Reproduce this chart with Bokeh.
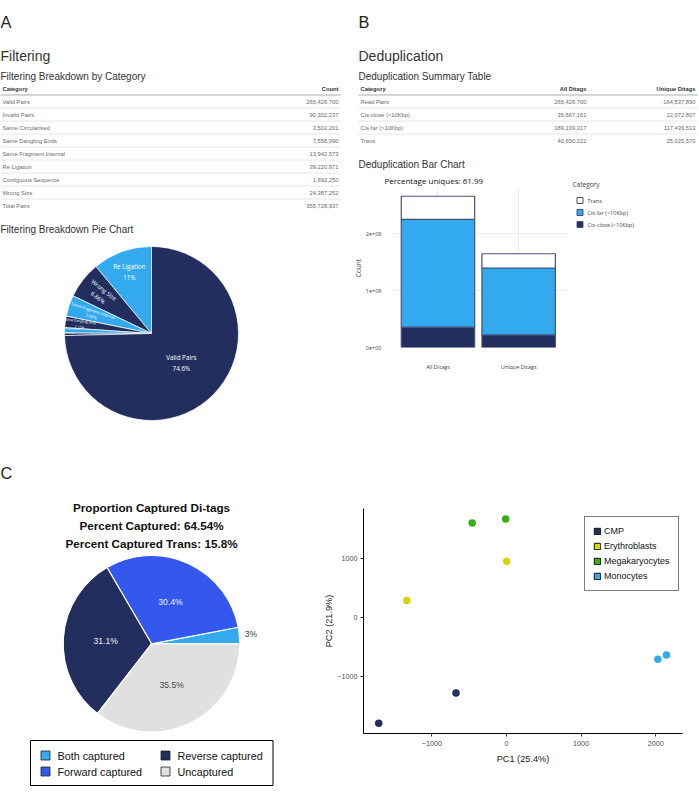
import numpy as np
from bokeh.plotting import figure
from bokeh.models import Range1d, Label, Legend, LegendItem, FixedTicker
from bokeh.layouts import row, column
from bokeh.core.properties import value
from bokeh.embed import file_html
from bokeh.resources import INLINE

# ---------------- data ----------------
filter_categories = ["Valid Pairs", "Invalid Pairs", "Same Circularised", "Same Dangling Ends",
                     "Same Fragment Internal", "Re Ligation", "Contiguous Sequence", "Wrong Size",
                     "Total Pairs"]
filter_counts = [265426700, 90302237, 3502201, 7556990, 13942573, 39220971, 1692250, 24387252,
                 355728937]

# pie slices in drawing order (counter-clockwise from 12 o'clock)
pie_a_labels = ["Re Ligation", "Wrong Size", "Same Fragment Internal", "Same Dangling Ends",
                "Same Circularised", "Contiguous Sequence", "Valid Pairs"]
pie_a_values = [39220971, 24387252, 13942573, 7556990, 3502201, 1692250, 265426700]

dedup_categories = ["Read Pairs", "Cis-close (<10Kbp)", "Cis-far (>10Kbp)", "Trans"]
dedup_all = [265426700, 35667161, 189109317, 40650222]
dedup_unique = [164537890, 22072807, 117439513, 25025570]

bar_groups = ["All Ditags", "Unique Ditags"]
bar_series = ["Cis-close (<10Kbp)", "Cis-far (>10Kbp)", "Trans"]   # stack order
bar_close = [35667161, 22072807]
bar_far = [189109317, 117439513]
bar_trans = [40650222, 25025570]
bar_yticks = [0, 100000000, 200000000]
bar_ytick_labels = ["0e+00", "1e+08", "2e+08"]

cap_labels = ["Both captured", "Forward captured", "Reverse captured", "Uncaptured"]
cap_pct = [3.0, 30.4, 31.1, 35.5]
cap_title = ["Proportion Captured Di-tags", "Percent Captured: 64.54%",
             "Percent Captured Trans: 15.8%"]

pca_classes = ["CMP", "Erythroblasts", "Megakaryocytes", "Monocytes"]
pca_group = ["CMP", "CMP", "Erythroblasts", "Erythroblasts", "Megakaryocytes",
             "Megakaryocytes", "Monocytes", "Monocytes"]
pca_pc1 = [-1713, -677, -1336, 3, -460, -11, 2029, 2144]
pca_pc2 = [-1797, -1283, 283, 949, 1598, 1666, -712, -639]
pca_xticks = [-1000, 0, 1000, 2000]
pca_yticks = [-1000, 0, 1000]

# ---------------- style ----------------
NAVY = "#212e5e"
LIGHT = "#33aaee"
FWD = "#3458ee"
GRAY = "#e0e0e0"
SANS = "Liberation Sans"
PLOTLY = "Open Sans"
ROW_H = 13

pie_a_colors = [LIGHT, NAVY, LIGHT, NAVY, LIGHT, NAVY, NAVY]
pie_a_lab_r = [0.75, 0.74, 0.72, 0.83, 0.94, 0.0, 0.48]
pie_a_lab_size = [6.3, 5.8, 4.1, 3.4, 2.5, 0.0, 6.3]
bar_colors = [NAVY, LIGHT, "white"]
BAR_LINE = "#47507c"
cap_colors = [LIGHT, FWD, NAVY, GRAY]
cap_text_colors = ["#444444", "#eeeeee", "#eeeeee", "#444444"]
pca_colors = ["#222e5e", "#d6d40c", "#33b10f", "#36a9ef"]


def canvas(w, h):
    p = figure(width=w, height=h, x_range=Range1d(0, w), y_range=Range1d(h, 0),
               x_axis_type=None, y_axis_type=None, toolbar_location=None,
               output_backend="svg", min_border=0)
    p.outline_line_color = None
    p.frame_align = False
    return p


def put(p, x, y, text, size, color="#333333", font=SANS, style="normal", align="left",
        baseline="alphabetic", angle=0):
    if not isinstance(text, (list, tuple)):
        x, y, text = [x], [y], [text]
    p.text(x=list(x), y=list(y), text=list(text), text_font=value(font),
           text_font_size=f"{size}px", text_color=color, text_font_style=style,
           text_align=align, text_baseline=baseline, angle=angle, angle_units="deg")


def table(p, left, right, hdr_y, xs, aligns, headers, columns):
    n = len(columns[0])
    for hx, h, al in zip(xs, headers, aligns):
        put(p, hx, hdr_y, h, 5.8, "#333333", style="bold", align=al, baseline="middle")
    ys = [hdr_y + ROW_H * (i + 1) for i in range(n)]
    for hx, col, al in zip(xs, columns, aligns):
        put(p, [hx] * n, ys, col, 5.8, "#6a6a6a", align=al, baseline="middle")
    ly = [hdr_y + 6.5 + ROW_H * i for i in range(n)]
    p.segment(x0=left, x1=right, y0=ly, y1=ly,
              line_color=["#d6d6d6"] + ["#e6e6e6"] * (n - 1),
              line_width=[2] + [1] * (n - 1))


# ---------------- panel A ----------------
pA = canvas(350, 445)
put(pA, 0, 21.7, "A", 16.3, "#222222")
put(pA, 0, 55, "Filtering", 14)
put(pA, 0, 75.5, "Filtering Breakdown by Category", 10)
table(pA, 0, 340, 88, [2, 338], ["left", "right"], ["Category", "Count"],
      [filter_categories, [f"{c:,}" for c in filter_counts]])
put(pA, 0, 228.5, "Filtering Breakdown Pie Chart", 10)

acx, acy, ar = 151, 333, 87
vals = np.array(pie_a_values, float)
frac = vals / vals.sum()
edges = 90 + 360 * np.concatenate([[0], np.cumsum(frac)])
pA.wedge(x=acx, y=acy, radius=ar, radius_units="screen",
         start_angle=np.deg2rad(edges[:-1]), end_angle=np.deg2rad(edges[1:]),
         direction="anticlock", fill_color=pie_a_colors, line_color="white", line_width=0.7)
mids = (edges[:-1] + edges[1:]) / 2
for lab, f, m, rf, fs in zip(pie_a_labels, frac, mids, pie_a_lab_r, pie_a_lab_size):
    if fs <= 0:
        continue
    rad = np.deg2rad(m)
    lx = acx + ar * rf * np.cos(rad)
    ly = acy - ar * rf * np.sin(rad)
    ang = 0 if f >= 0.1 else (m - 180 if np.cos(rad) < 0 else m)
    put(pA, lx, ly, f"{lab}\n{100 * f:.3g}%", fs, "white", font=PLOTLY, align="center",
        baseline="middle", angle=ang)

# ---------------- panel B ----------------
pB1 = canvas(349, 170)
put(pB1, 8, 21.7, "B", 16.3, "#222222")
put(pB1, 8, 55, "Deduplication", 14)
put(pB1, 8, 75.5, "Deduplication Summary Table", 10)
table(pB1, 8, 347, 88, [10, 236, 345], ["left", "right", "right"],
      ["Category", "All Ditags", "Unique Ditags"],
      [dedup_categories, [f"{v:,}" for v in dedup_all], [f"{v:,}" for v in dedup_unique]])
put(pB1, 8, 164, "Deduplication Bar Chart", 10)

pB2 = figure(width=218, height=275, x_range=Range1d(-0.576, 1.618),
             y_range=Range1d(0, 2.79e8), toolbar_location=None, output_backend="svg",
             min_border_left=37, min_border_right=0, min_border_top=18,
             min_border_bottom=98,
             title=f"Percentage uniques: {100 * dedup_unique[0] / dedup_all[0]:.2f}")
pB2.frame_align = False
pB2.outline_line_color = None
pB2.title.align = "left"
pB2.title.offset = -7
pB2.title.standoff = 5
pB2.title.text_font = PLOTLY
pB2.title.text_font_size = "8px"
pB2.title.text_font_style = "normal"
pB2.title.text_color = "#111111"
src = dict(x=list(range(len(bar_groups))), close=bar_close, far=bar_far, trans=bar_trans)
rs = pB2.vbar_stack(["close", "far", "trans"], x="x", width=0.91, source=src,
                    fill_color=bar_colors, line_color=BAR_LINE, line_width=1.2,
                    name=bar_series)
pB2.xaxis.ticker = FixedTicker(ticks=list(range(len(bar_groups))))
pB2.xaxis.major_label_overrides = {i: g for i, g in enumerate(bar_groups)}
pB2.yaxis.ticker = FixedTicker(ticks=bar_yticks)
pB2.yaxis.major_label_overrides = dict(zip(bar_yticks, bar_ytick_labels))
pB2.yaxis.axis_label = "Count"
for ax in (pB2.xaxis[0], pB2.yaxis[0]):
    ax.axis_line_color = None
    ax.major_tick_line_color = None
    ax.minor_tick_line_color = None
    ax.major_label_text_font = PLOTLY
    ax.major_label_text_font_size = "5.5px"
    ax.major_label_text_color = "#444444"
pB2.xaxis.major_label_standoff = 9
pB2.yaxis.major_label_standoff = 4
pB2.yaxis.axis_label_text_font = PLOTLY
pB2.yaxis.axis_label_text_font_size = "6.5px"
pB2.yaxis.axis_label_text_font_style = "normal"
pB2.yaxis.axis_label_text_color = "#444444"
pB2.yaxis.axis_label_standoff = 0
pB2.grid.grid_line_color = "#ececec"

# legend of the bar chart (drawn beside the plot area)
pB3 = canvas(131, 275)
put(pB3, 4, 14, "Category", 6.5, "#444444", font=PLOTLY, baseline="middle")
leg_names = bar_series[::-1]
leg_cols = bar_colors[::-1]
leg_y = [30 + 12 * i for i in range(len(leg_names))]
pB3.rect(x=[11.5] * len(leg_names), y=leg_y, width=6, height=6, fill_color=leg_cols,
         line_color=BAR_LINE, line_width=1)
put(pB3, [19] * len(leg_names), leg_y, leg_names, 5.5, "#444444", font=PLOTLY,
    baseline="middle")

# ---------------- panel C ----------------
pC = canvas(320, 351)
put(pC, 0, 27.7, "C", 16.3, "#222222")
for i, t in enumerate(cap_title):
    put(pC, 151, 62.3 + 17.7 * i, t, 11.7, "#111111", style="bold", align="center")
ccx, ccy, cr = 151, 198.3, 88.3
cp = np.array(cap_pct, float)
cedges = 360 * np.concatenate([[0], np.cumsum(cp) / cp.sum()])
pC.wedge(x=ccx, y=ccy, radius=cr, radius_units="screen",
         start_angle=np.deg2rad(cedges[:-1]), end_angle=np.deg2rad(cedges[1:]),
         direction="anticlock", fill_color=cap_colors, line_color="white", line_width=1.2)
cm = np.deg2rad((cedges[:-1] + cedges[1:]) / 2)
crf = np.where(cp / cp.sum() < 0.05, 1.13, 0.52)
put(pC, list(ccx + cr * crf * np.cos(cm)), list(ccy - cr * crf * np.sin(cm)),
    [f"{v:g}%" for v in cap_pct], 8.6, cap_text_colors, align="center",
    baseline="middle")
# legend box
pC.quad(left=30, right=272.5, top=295, bottom=340, fill_color="white",
        line_color="black", line_width=1)
lx = [45 + 120 * (i // 2) for i in range(len(cap_labels))]
ly = [310 + 16 * (i % 2) for i in range(len(cap_labels))]
pC.rect(x=lx, y=ly, width=9, height=9, fill_color=cap_colors, line_color="#222222",
        line_width=0.8)
put(pC, [x + 12 for x in lx], ly, cap_labels, 10.8, "#111111", baseline="middle")

# ---------------- panel D ----------------
pD = figure(width=379, height=351, x_range=Range1d(-1917, 2359),
            y_range=Range1d(-1971, 1842), toolbar_location=None, output_backend="svg",
            min_border_left=43, min_border_right=17, min_border_top=63,
            min_border_bottom=63)
pD.frame_align = False
pD.outline_line_color = None
pD.grid.visible = False
items = []
for cls, col in zip(pca_classes, pca_colors):
    xs = [x for x, g in zip(pca_pc1, pca_group) if g == cls]
    ys = [y for y, g in zip(pca_pc2, pca_group) if g == cls]
    pD.scatter(xs, ys, size=7.5, fill_color=col, line_color=None)
    key = pD.rect(x=[float("nan")], y=[float("nan")], width=1, height=1,
                  fill_color=col, line_color="#111111", line_width=1)
    items.append(LegendItem(label=cls, renderers=[key]))
pD.xaxis.ticker = FixedTicker(ticks=pca_xticks)
pD.yaxis.ticker = FixedTicker(ticks=pca_yticks)
pD.xaxis.axis_label = "PC1 (25.4%)"
pD.yaxis.axis_label = "PC2 (21.9%)"
for ax in (pD.xaxis[0], pD.yaxis[0]):
    ax.axis_line_color = "black"
    ax.axis_line_width = 1
    ax.major_tick_line_color = "#333333"
    ax.major_tick_in = 0
    ax.major_tick_out = 3
    ax.minor_tick_line_color = None
    ax.major_label_text_font = SANS
    ax.major_label_text_font_size = "7.2px"
    ax.major_label_text_color = "#4d4d4d"
    ax.axis_label_text_font = SANS
    ax.axis_label_text_font_size = "9.2px"
    ax.axis_label_text_font_style = "normal"
    ax.axis_label_text_color = "#222222"
pD.xaxis.major_label_standoff = 4
pD.yaxis.major_label_standoff = 3
pD.xaxis.axis_label_standoff = 5
pD.yaxis.axis_label_standoff = 0
legD = Legend(items=items, location=(221, 142))
legD.label_text_font = SANS
legD.label_text_font_size = "9px"
legD.label_text_color = "#111111"
legD.glyph_width = 8
legD.glyph_height = 8
legD.label_standoff = 3
legD.label_height = 12
legD.spacing = 3
legD.padding = 8
legD.border_line_color = "black"
legD.border_line_width = 1
legD.background_fill_color = "white"
legD.background_fill_alpha = 1
pD.add_layout(legD)
pD.add_layout(Label(x=-36, y=260.3, x_units="screen", y_units="screen", text="D",
                    text_font=SANS, text_font_size="16.3px", text_color="#222222",
                    text_baseline="alphabetic"))

layout = column(row(pA, column(pB1, row(pB2, pB3))), row(pC, pD))
open("out.html", "w").write(file_html(layout, INLINE))
